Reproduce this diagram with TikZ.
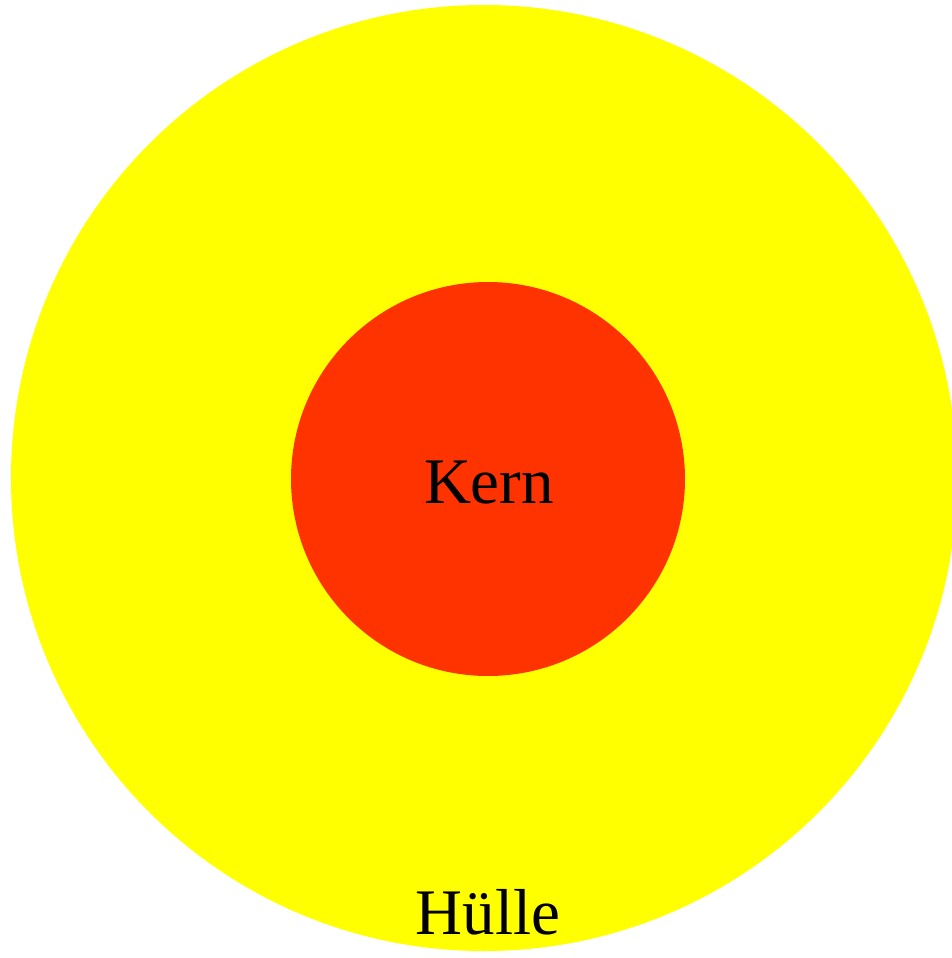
\documentclass[tikz,border=0pt]{standalone}
\usepackage{fontspec}
\setmainfont{Liberation Serif}
\definecolor{shell}{HTML}{FFFF00}
\definecolor{core}{HTML}{FF3300}

\begin{document}
\begin{tikzpicture}[x=0.02cm,y=-0.02cm,every node/.style={font=\fontsize{37}{44}\selectfont,inner sep=0pt}]
\useasboundingbox (0,0) rectangle (952,958);
\fill[shell] (484,478) circle (473);
\fill[core] (488,479) circle (197);
\node[anchor=base] (kern) at (489,503) {Kern};
\node[anchor=base] (huelle) at (488,934) {Hülle};
\end{tikzpicture}
\end{document}
